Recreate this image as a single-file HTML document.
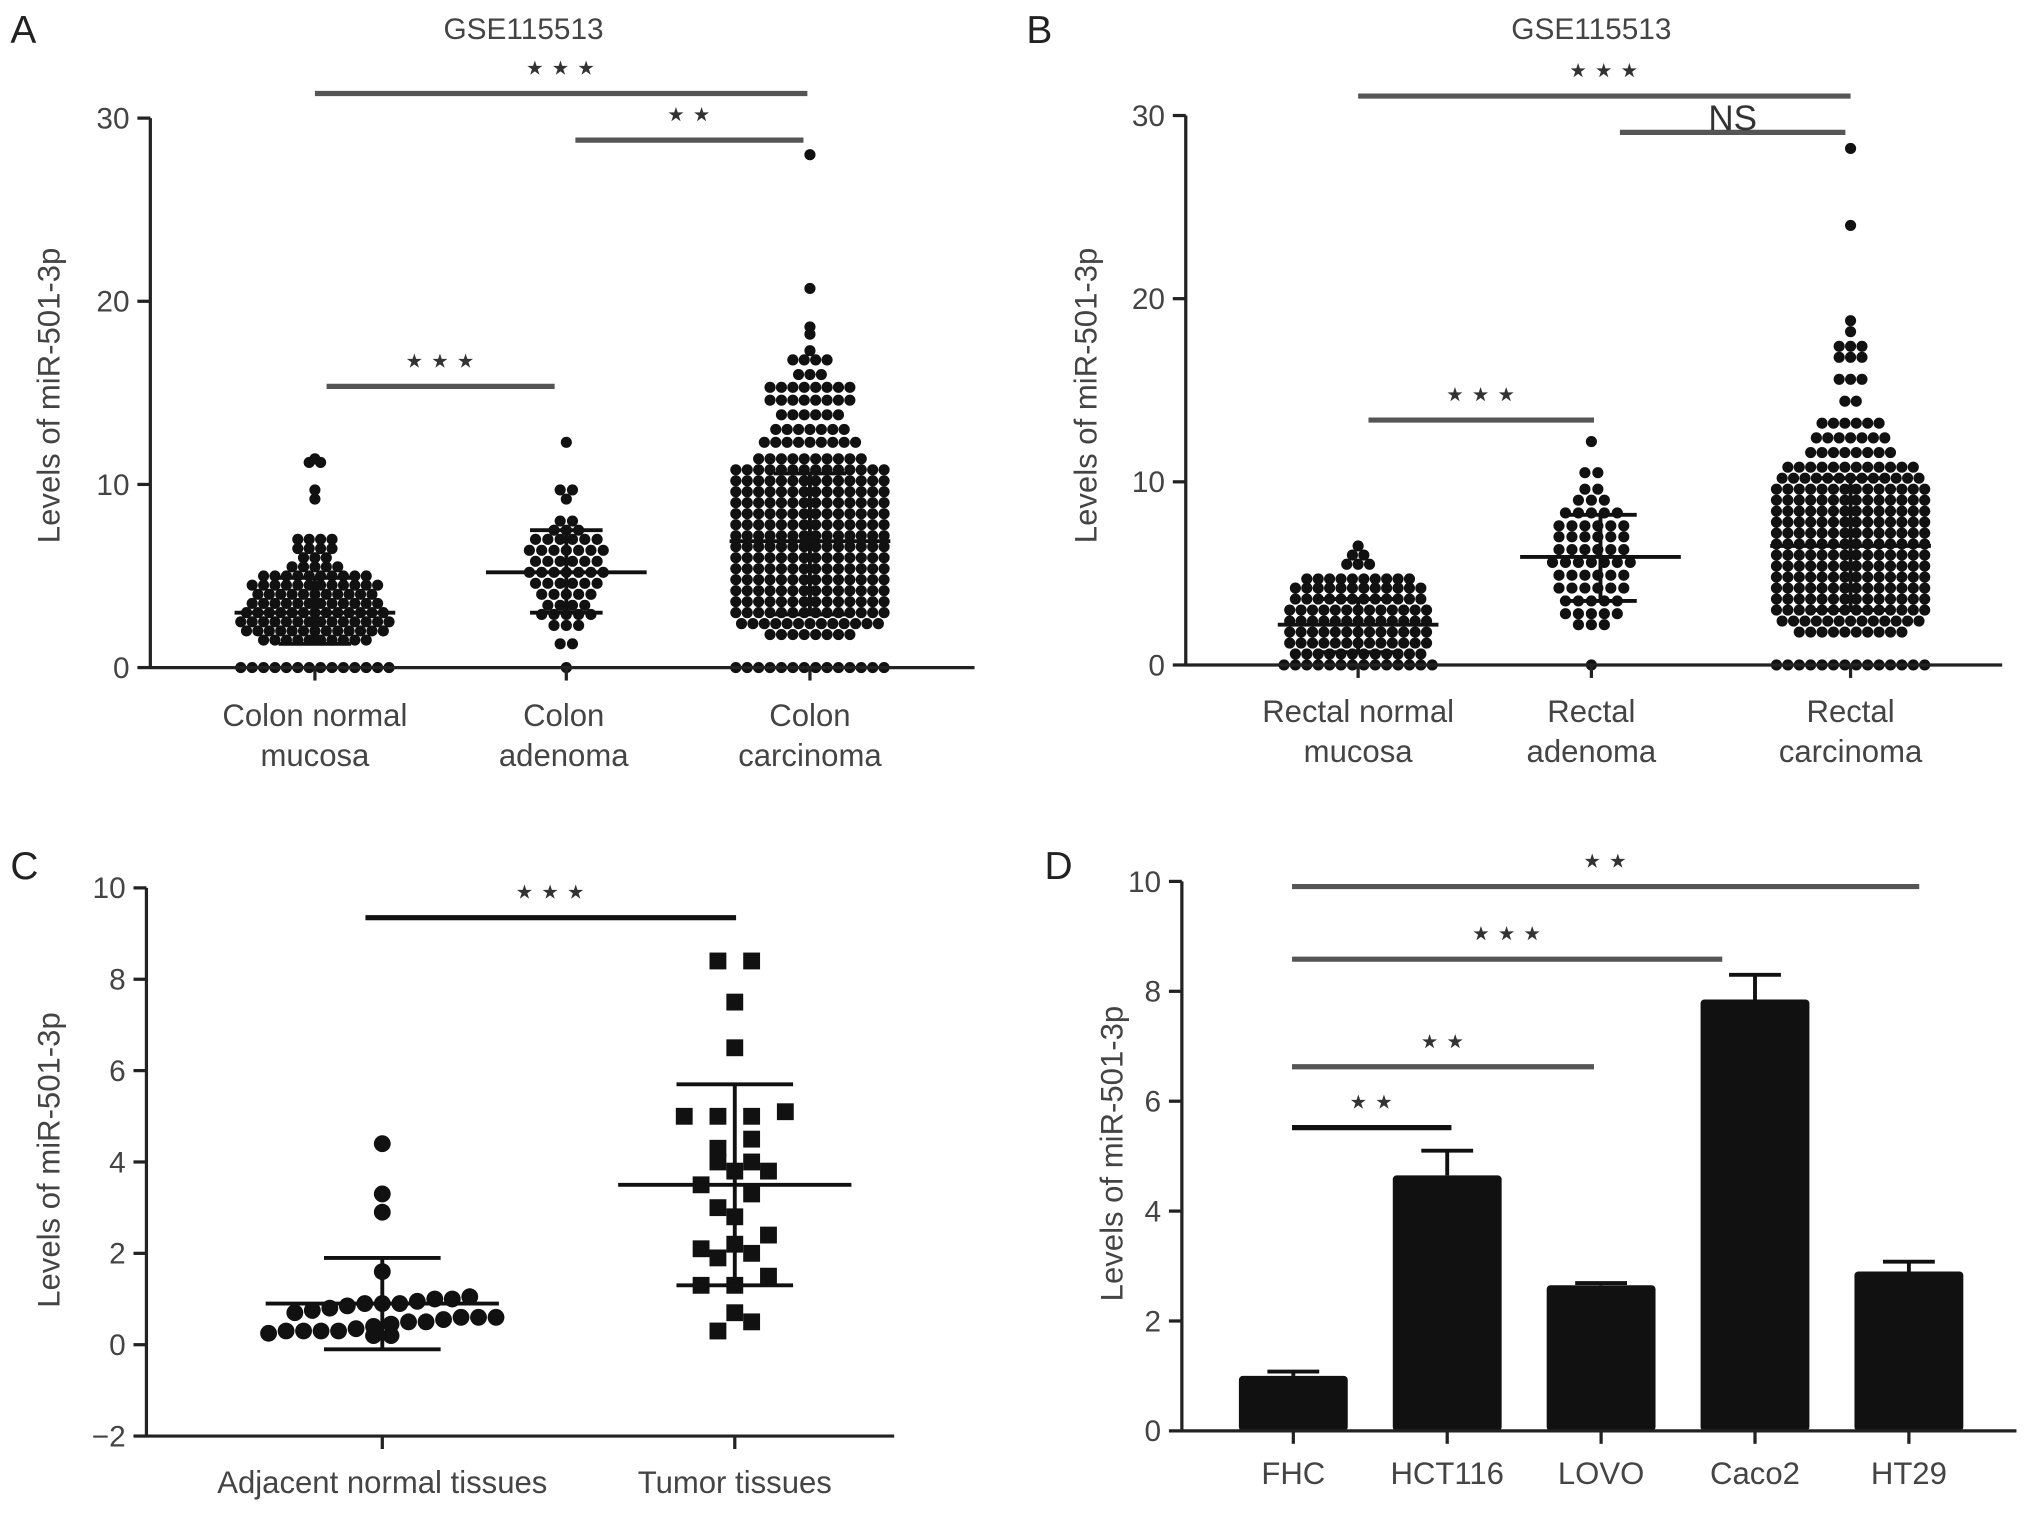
<!DOCTYPE html>
<html><head><meta charset="utf-8">
<style>
html,body{margin:0;padding:0;background:#fff;}
svg{display:block;font-family:"Liberation Sans",sans-serif;}
</style></head>
<body>
<svg id="fig" width="2032" height="1514" viewBox="0 0 1568 1168" xmlns="http://www.w3.org/2000/svg"></svg>
<script>
// ---------- DATA ----------
const aNormVals = [0,1.5,2,2.5,3,3.5,4,4.5,5,5.5,6,6.5,7,9.2,9.7,11.2,11.4];
const aNormCnts = [14,10,13,14,13,12,11,12,10,5,3,4,4,1,1,2,1];
const aAdenVals = [0,1.3,2.3,2.9,3.4,4.0,4.6,5.2,5.8,6.4,7.0,7.5,8.0,9.2,9.7,12.3];
const aAdenCnts = [1,2,3,5,4,5,6,7,6,7,6,3,2,1,2,1];
const aCarcVals = [0,1.8,2.4,3.0,3.6,4.2,4.8,5.4,6.0,6.6,7.2,7.8,8.4,9.0,9.6,10.2,10.8,11.4,12.3,13.0,13.8,14.6,15.3,16.0,16.8,17.3,18.2,18.6,20.7,28.0];
const aCarcCnts = [14,8,13,14,14,14,14,14,14,14,14,14,14,14,14,14,14,10,9,7,6,8,8,3,4,1,1,1,1,1];
const aStats = [[3.0,1.3,4.9],[5.2,3.0,7.5],[6.9,2.9,10.6]];
const bNormVals = [0,0.6,1.2,1.8,2.4,3.0,3.6,4.2,4.7,5.5,6.0,6.5];
const bNormCnts = [14,12,13,13,13,13,12,12,10,3,2,1];
const bAdenVals = [0,2.2,2.8,3.5,4.2,4.9,5.6,6.3,7.0,7.6,8.3,9.0,9.6,10.5,12.2];
const bAdenCnts = [1,3,5,5,6,6,7,6,6,6,5,3,2,2,1];
const bCarcVals = [0,1.8,2.4,3.0,3.6,4.2,4.8,5.4,6.0,6.6,7.2,7.8,8.4,9.0,9.6,10.2,10.8,11.6,12.4,13.2,14.4,15.6,16.8,17.4,18.2,18.8,24.0,28.2];
const bCarcCnts = [14,10,13,14,14,14,14,14,14,14,14,14,14,14,14,13,12,8,7,6,2,3,3,3,1,1,1,1];
const bStats = [[2.2,0.7,3.6],[5.9,3.5,8.2],[6.5,3.0,10.2]];
const cAdjVals = [0.2,0.2,0.25,0.3,0.3,0.3,0.3,0.35,0.4,0.45,0.5,0.5,0.55,0.6,0.6,0.6,0.7,0.75,0.8,0.85,0.9,0.9,0.9,0.95,1.0,1.0,1.05,1.6,2.9,3.3,4.4];
const cTumVals = [0.3,0.5,0.7,1.3,1.3,1.5,1.9,2.0,2.1,2.2,2.4,2.8,3.0,3.3,3.5,3.8,3.8,4.0,4.0,4.3,4.5,5.0,5.0,5.0,5.1,6.5,7.5,8.4,8.4];
const cStats = [[0.9,-0.1,1.9],[3.5,1.3,5.7]];
const dCats = ["FHC","HCT116","LOVO","Caco2","HT29"];
const dVals = [1.0,4.65,2.65,7.85,2.9];
const dErrs = [0.08,0.45,0.04,0.45,0.18];

// ---------- HELPERS ----------
const svg = document.getElementById('fig');
const NS = 'http://www.w3.org/2000/svg';
function mk(tag, attrs, parent){
  const e = document.createElementNS(NS, tag);
  for (const k in attrs) e.setAttribute(k, attrs[k]);
  (parent||svg).appendChild(e);
  return e;
}
function txt(x,y,s,size,anchor,fill,parent){
  const t = mk('text',{x:x,y:y,'font-size':size,'text-anchor':anchor||'middle',fill:fill||'#444'},parent);
  t.textContent = s; return t;
}
function axesY(g, x, yFn, ticks, top, bottom){
  mk('line',{x1:x,y1:top,x2:x,y2:bottom,stroke:'#222','stroke-width':2.5},g);
  ticks.forEach(v=>{
    const y=yFn(v);
    mk('line',{x1:x-10,y1:y,x2:x,y2:y,stroke:'#222','stroke-width':2.5},g);
    const t=txt(x-16,y+8,(v<0?'\u2212'+(-v):String(v)),23,'end','#444',g);
    
    
  });
}
function sigBar(g,x1,x2,y,label,color,w){
  const l=mk('line',{x1:x1,y1:y,x2:x2,y2:y,stroke:color||'#555','stroke-width':w||4},g);
  
  
  let t;
  if(label==='NS'){ t=txt((x1+x2)/2,y-2,label,27,'middle','#333',g); }
  else { t=txt((x1+x2)/2,y-10,label.replace(/\*/g,'\u22c6'),30,'middle','#333',g); t.setAttribute('letter-spacing','1'); }
  
  
}
function swarm(g,cx,yFn,vals,cnts,sp){
  vals.forEach((v,i)=>{
    const n=cnts[i];
    for(let j=0;j<n;j++){
      const c=mk('circle',{cx:cx+(j-(n-1)/2)*sp,cy:yFn(v),r:4.3,fill:'#111'},g);
      
      
    }
  });
}
function meanSd(g,cx,yFn,st,wm,ws){
  const [m,lo,hi]=st;
  mk('line',{x1:cx,y1:yFn(lo),x2:cx,y2:yFn(hi),stroke:'#111','stroke-width':3},g);
  mk('line',{x1:cx-wm,y1:yFn(m),x2:cx+wm,y2:yFn(m),stroke:'#111','stroke-width':3},g);
  mk('line',{x1:cx-ws,y1:yFn(lo),x2:cx+ws,y2:yFn(lo),stroke:'#111','stroke-width':3},g);
  mk('line',{x1:cx-ws,y1:yFn(hi),x2:cx+ws,y2:yFn(hi),stroke:'#111','stroke-width':3},g);
}
function ylabel(g,x,y,s){
  const t=txt(x,y,s,24,'middle','#444',g);
  t.setAttribute('transform','rotate(-90 '+x+' '+y+')');
  
  
}
function panelLetter(x,y,s){
  const t=txt(x,y,s,30,'start','#222');
  
  
}
function xlabels(g,x,y,lines){
  lines.forEach((s,i)=>{
    const t=txt(x,y+i*31,s,24,'middle','#444',g);
    
    
  });
}

// ---------- PANEL A ----------
(function(){
  const g=mk('g',{});
  
  
  const y0=515, y30=91, yA=v=>y0-(v/30)*(y0-y30);
  panelLetter(8,33,'A');
  const t=txt(404,30,'GSE115513',23,'middle','#444',g);
  
  
  swarm(g,243,yA,aNormVals,aNormCnts,8.8);
  swarm(g,437,yA,aAdenVals,aAdenCnts,9.5);
  swarm(g,625,yA,aCarcVals,aCarcCnts,8.8);
  meanSd(g,243,yA,aStats[0],62,28);
  meanSd(g,437,yA,aStats[1],62,28);
  meanSd(g,625,yA,aStats[2],62,28);
  axesY(g,116,yA,[0,10,20,30],91,516);
  mk('line',{x1:116,y1:y0,x2:752,y2:y0,stroke:'#222','stroke-width':2.5},g);
  [243,437,625].forEach(x=>mk('line',{x1:x,y1:y0,x2:x,y2:y0+10,stroke:'#222','stroke-width':2.5},g));
  ylabel(g,46,305,'Levels of miR-501-3p');
  sigBar(g,243,623,72,'***');
  sigBar(g,444,620,108,'**');
  sigBar(g,252,428,298,'***');
  xlabels(g,243,560,['Colon normal','mucosa']);
  xlabels(g,435,560,['Colon','adenoma']);
  xlabels(g,625,560,['Colon','carcinoma']);
})();

// ---------- PANEL B ----------
(function(){
  const g=mk('g',{});
  
  
  const y0=513, y30=89, yB=v=>y0-(v/30)*(y0-y30);
  panelLetter(792,33,'B');
  const t=txt(1228,30,'GSE115513',23,'middle','#444',g);
  
  
  swarm(g,1048,yB,bNormVals,bNormCnts,8.8);
  swarm(g,1228,yB,bAdenVals,bAdenCnts,10);
  swarm(g,1428,yB,bCarcVals,bCarcCnts,8.8);
  meanSd(g,1048,yB,bStats[0],62,28);
  meanSd(g,1235,yB,bStats[1],62,28);
  meanSd(g,1428,yB,bStats[2],62,28);
  axesY(g,915,yB,[0,10,20,30],89,514);
  mk('line',{x1:915,y1:y0,x2:1545,y2:y0,stroke:'#222','stroke-width':2.5},g);
  [1048,1228,1428].forEach(x=>mk('line',{x1:x,y1:y0,x2:x,y2:y0+10,stroke:'#222','stroke-width':2.5},g));
  ylabel(g,846,305,'Levels of miR-501-3p');
  sigBar(g,1048,1428,74,'***');
  sigBar(g,1250,1424,102,'NS');
  sigBar(g,1056,1230,324,'***');
  xlabels(g,1048,557,['Rectal normal','mucosa']);
  xlabels(g,1228,557,['Rectal','adenoma']);
  xlabels(g,1428,557,['Rectal','carcinoma']);
})();

// ---------- PANEL C ----------
(function(){
  const g=mk('g',{});
  
  
  const y10=685, yn2=1108, yC=v=>yn2-((v+2)/12)*(yn2-y10);
  panelLetter(8,678,'C');
  function place(vals,cx,bin,sp,shape){
    const rows={};
    vals.forEach(v=>{const k=Math.round(v/bin); (rows[k]=rows[k]||[]).push(v);});
    Object.keys(rows).forEach(k=>{
      const r=rows[k], n=r.length;
      r.forEach((v,j)=>{
        const x=cx+(j-(n-1)/2)*sp, y=yC(v);
        let e;
        if(shape==='sq') e=mk('rect',{x:x-6.5,y:y-6.5,width:13,height:13,fill:'#111'},g);
        else e=mk('circle',{cx:x,cy:y,r:6.5,fill:'#111'},g);
        
        
      });
    });
  }
  place(cAdjVals,295,0.45,13.5,'c');
  place(cTumVals,567,0.45,26,'sq');
  meanSd(g,295,yC,cStats[0],90,45);
  meanSd(g,567,yC,cStats[1],90,45);
  axesY(g,113,yC,[-2,0,2,4,6,8,10],685,1109);
  mk('line',{x1:113,y1:yn2,x2:690,y2:yn2,stroke:'#222','stroke-width':2.5},g);
  [295,567].forEach(x=>mk('line',{x1:x,y1:yn2,x2:x,y2:yn2+10,stroke:'#222','stroke-width':2.5},g));
  ylabel(g,46,895,'Levels of miR-501-3p');
  sigBar(g,282,568,708,'***','#111',4);
  xlabels(g,295,1152,['Adjacent normal tissues']);
  xlabels(g,567,1152,['Tumor tissues']);
})();

// ---------- PANEL D ----------
(function(){
  const g=mk('g',{});
  
  
  const y0=1104, y10=680, yD=v=>y0-(v/10)*(y0-y10);
  const xD=i=>998+i*118.75, bw=84;
  panelLetter(806,678,'D');
  dCats.forEach((c,i)=>{
    const x=xD(i);
    mk('line',{x1:x,y1:yD(dVals[i]),x2:x,y2:yD(dVals[i]+dErrs[i]),stroke:'#111','stroke-width':3},g);
    mk('line',{x1:x-20,y1:yD(dVals[i]+dErrs[i]),x2:x+20,y2:yD(dVals[i]+dErrs[i]),stroke:'#111','stroke-width':3},g);
    const r=mk('rect',{x:x-bw/2,y:yD(dVals[i]),width:bw,height:y0-yD(dVals[i]),fill:'#111',rx:3},g);
    
    
    mk('line',{x1:x,y1:y0,x2:x,y2:y0+10,stroke:'#222','stroke-width':2.5},g);
    const t=txt(x,1145,c,24,'middle','#444',g);
    
    
  });
  axesY(g,912,yD,[0,2,4,6,8,10],680,1105);
  mk('line',{x1:912,y1:y0,x2:1556,y2:y0,stroke:'#222','stroke-width':2.5},g);
  ylabel(g,866,890,'Levels of miR-501-3p');
  sigBar(g,997,1481,684,'**');
  sigBar(g,997,1329,740,'***');
  sigBar(g,997,1230,823,'**');
  sigBar(g,997,1120,870,'**','#111',4);
})();
</script>
</body></html>
